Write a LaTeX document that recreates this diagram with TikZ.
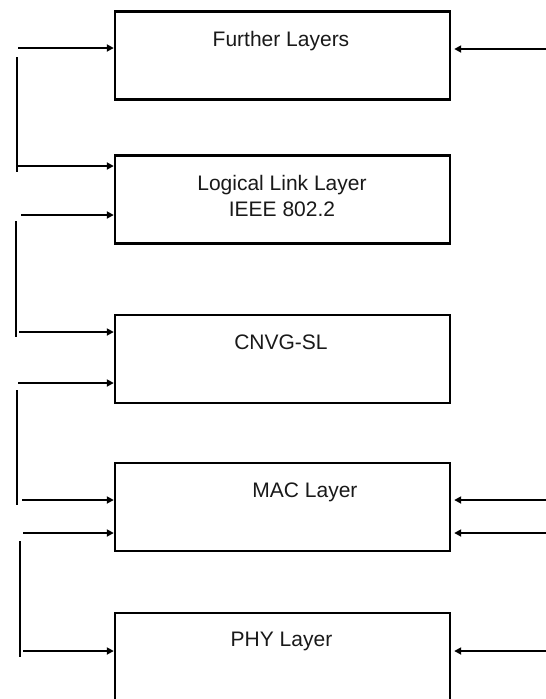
\documentclass[tikz,border=0pt]{standalone}
\usepackage{fontspec}
\setmainfont{Liberation Sans}
\usetikzlibrary{arrows.meta}

\begin{document}
\begin{tikzpicture}[x=1pt,y=-1pt,
  layerbox/.style={draw, line width=2.4pt, inner sep=0pt,
    minimum width=335pt, minimum height=88pt},
  layertext/.style={anchor=base, inner sep=0pt, align=center,
    font=\fontsize{21}{26}\selectfont, text=black!90},
  link/.style={line width=2.4pt},
  feed/.style={line width=2.4pt, -{Triangle[length=7pt,width=7pt]}}]

  % page frame; also cuts off the lower edge of the bottom box
  \clip (0,0) rectangle (546,699);

  % protocol layers
  \node[layerbox] (b1) at (282.5,55.5) {};
  \node[layerbox] (b2) at (282.5,199.5) {};
  \node[layerbox] (b3) at (282.5,359) {};
  \node[layerbox] (b4) at (282.5,507) {};
  \node[layerbox] (b5) at (282.5,657) {};

  \node[layertext] (t1) at (281,46) {Further Layers};
  \node[layertext, anchor=north] (t2) at (282,175) {Logical Link Layer\\IEEE 802.2};
  \node[layertext] (t3) at (281,349) {CNVG-SL};
  \node[layertext] (t4) at (305,497) {MAC Layer};
  \node[layertext] (t5) at (281.5,646) {PHY Layer};

  % free ends of the left-hand feeds
  \coordinate (l1) at (18,48);
  \coordinate (l2) at (17,166);
  \coordinate (l3) at (21,215);
  \coordinate (l4) at (19,332);
  \coordinate (l5) at (18,383);
  \coordinate (l6) at (22,500);
  \coordinate (l7) at (23,533);
  \coordinate (l8) at (23,651);

  % left-hand vertical bars
  \coordinate (v1a) at (17,57);  \coordinate (v1b) at (17,172);
  \coordinate (v2a) at (16,221); \coordinate (v2b) at (16,337);
  \coordinate (v3a) at (17,390); \coordinate (v3b) at (17,505);
  \coordinate (v4a) at (20,541); \coordinate (v4b) at (20,657);
  \draw[link] (v1a) -- (v1b);
  \draw[link] (v2a) -- (v2b);
  \draw[link] (v3a) -- (v3b);
  \draw[link] (v4a) -- (v4b);

  % feeds entering the layers from the left
  \draw[feed] (l1) -- (l1 -| b1.west);
  \draw[feed] (l2) -- (l2 -| b2.west);
  \draw[feed] (l3) -- (l3 -| b2.west);
  \draw[feed] (l4) -- (l4 -| b3.west);
  \draw[feed] (l5) -- (l5 -| b3.west);
  \draw[feed] (l6) -- (l6 -| b4.west);
  \draw[feed] (l7) -- (l7 -| b4.west);
  \draw[feed] (l8) -- (l8 -| b5.west);

  % feeds entering the layers from the right
  \coordinate (r1) at (546,49);
  \coordinate (r2) at (546,500);
  \coordinate (r3) at (546,533);
  \coordinate (r4) at (546,651);
  \draw[feed] (r1) -- ([xshift=3pt]r1 -| b1.east);
  \draw[feed] (r2) -- ([xshift=3pt]r2 -| b4.east);
  \draw[feed] (r3) -- ([xshift=3pt]r3 -| b4.east);
  \draw[feed] (r4) -- ([xshift=3pt]r4 -| b5.east);
\end{tikzpicture}
\end{document}
